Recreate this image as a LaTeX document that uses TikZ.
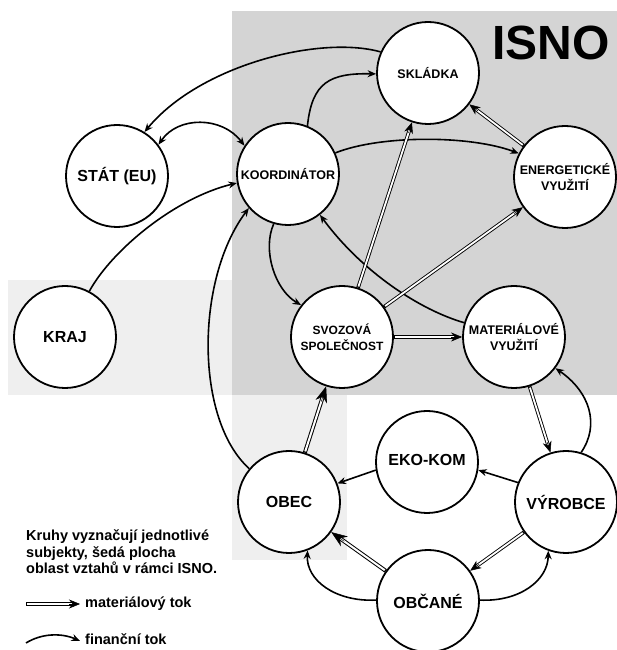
\documentclass[tikz,border=0pt]{standalone}
\usepackage{fontspec}
\setmainfont{Liberation Sans}
\usetikzlibrary{arrows.meta,calc}
\definecolor{darkg}{HTML}{D4D4D4}
\definecolor{lightg}{HTML}{EFEFEF}
% material flow: #1 tip length, #2 tip width, #3 line shorten, #4 outer width, #5 inner width, #6 from, #7 to
\newcommand\matflowgen[7]{%
  \path (#6) -- (#7) coordinate[pos=0] (ms) coordinate[pos=1] (me);
  \draw[line width=#4, shorten >=#3] (ms) -- (me);
  \draw[white, line width=#5, shorten >=#3, shorten <=1.2pt] (ms) -- (me);
  \draw[line width=0.5pt, -{Stealth[length=#1,width=#2]}] ($(me)!#1!(ms)$) -- (me);
}
\newcommand\matflow[2]{\matflowgen{11pt}{9pt}{6pt}{3.6pt}{1.8pt}{#1}{#2}}
\newcommand\matflowbig[2]{\matflowgen{16pt}{12pt}{8.5pt}{4.0pt}{2.0pt}{#1}{#2}}
\begin{document}
\begin{tikzpicture}[x=1pt,y=1pt,
  ent/.style={circle, draw=black, line width=1.8pt, fill=white, minimum size=102pt, inner sep=0pt, align=center, font=\bfseries\fontsize{12.5}{16}\selectfont},
  big/.style={font=\bfseries\fontsize{16}{18}\selectfont},
  fin/.style={line width=1.6pt, -{Stealth[length=8.5pt,width=7pt]}},
  finboth/.style={line width=1.6pt, {Stealth[length=8.5pt,width=7pt]}-{Stealth[length=8.5pt,width=7pt]}},
  legend/.style={font=\bfseries\fontsize{14.5}{16.5}\selectfont, align=left, anchor=west, inner sep=0pt},
]
\useasboundingbox (0,0) rectangle (617,650);
\fill[lightg] (8,255) rectangle (232,370);
\fill[lightg] (232,90) rectangle (347,255);
\fill[darkg] (232,255) rectangle (617,639);
\node[font=\bfseries\fontsize{48}{50}\selectfont, inner sep=0pt] (isno) at (551,607) {ISNO};

\node[ent] (skl) at (428,577) {SKLÁDKA};
\node[ent] (koo) at (288,476) {KOORDINÁTOR};
\node[ent] (ene) at (565,473) {ENERGETICKÉ\\VYUŽITÍ};
\node[ent, big] (sta) at (117,474) {STÁT (EU)};
\node[ent, big] (kra) at (65,313) {KRAJ};
\node[ent, font=\bfseries\fontsize{12}{16}\selectfont] (svo) at (342,313) {SVOZOVÁ\\SPOLEČNOST};
\node[ent] (mat) at (514,313) {MATERIÁLOVÉ\\VYUŽITÍ};
\node[ent, big] (eko) at (427,188) {\raisebox{5pt}{EKO-KOM}};
\node[ent, big] (obe) at (289,148) {OBEC};
\node[ent, big] (vyr) at (566,148) {VÝROBCE};
\node[ent, big] (obc) at (428,49) {OBČANÉ};

% financial flows
\draw[fin] (skl.156) .. controls (320,615) and (200,585) .. (sta.58);
\draw[finboth] (sta.37) .. controls (178,534) and (222,534) .. (koo.147);
\draw[fin] (koo.68) .. controls (312,568) and (330,577) .. (skl.181);
\draw[fin] (koo.24) .. controls (380,515) and (470,515) .. (ene.153);
\draw[fin] (kra.62) .. controls (112,400) and (175,452) .. (koo.190);
\draw[fin] (obe.140) .. controls (195,230) and (195,370) .. (koo.221);
\draw[fin] (koo.254) .. controls (262,400) and (275,360) .. (svo.142);
\draw[fin] (mat.164) .. controls (420,340) and (362,378) .. (koo.308);
\draw[fin] (vyr.158) -- (eko.351);
\draw[fin] (eko.189) -- (obe.21);
\draw[fin] (obc.179) .. controls (335,48) and (306,70) .. (obe.291);
\draw[fin] (obc.1) .. controls (520,48) and (548,70) .. (vyr.250);
\draw[fin] (vyr.73) .. controls (600,225) and (590,258) .. (mat.323);

% material flows
\matflow{svo}{skl}
\matflow{svo}{ene}
\matflow{ene}{skl}
\matflow{svo}{mat}
\matflow{mat}{vyr}
\matflow{vyr}{obc}
\matflowbig{obc}{obe}
\matflowbig{obe}{svo}

% legend
\node[legend] (lt) at (26,98) {Kruhy vyznačují jednotlivé\\subjekty, šedá plocha\\oblast vztahů v rámci ISNO.};
\coordinate (m1) at (26,46);
\coordinate (m2) at (80,46);
\matflow{m1}{m2}
\node[legend] (mt) at (85,46) {materiálový tok};
\coordinate (f1) at (26,7);
\coordinate (f2) at (80,9);
\draw[fin] (f1) .. controls (42,17) and (62,17) .. (f2);
\node[legend] (ft) at (85,11) {finanční tok};
\end{tikzpicture}
\end{document}
